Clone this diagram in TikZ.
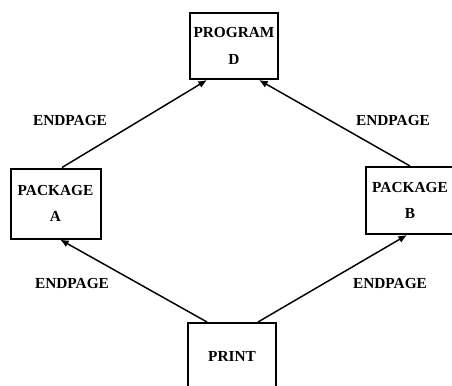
\documentclass[tikz,border=0pt]{standalone}
\usepackage{fontspec}
\setmainfont{Liberation Serif}
\usetikzlibrary{arrows.meta,calc}
\tikzset{
  modbox/.style={draw, line width=1.5pt, minimum width=66pt, minimum height=49.5pt,
    align=center, font=\fontsize{11.5}{20}\selectfont\bfseries, inner sep=0pt},
  call/.style={line width=1.1pt, -{Latex[length=6.5pt,width=5.5pt]}},
  lbl/.style={font=\fontsize{11.5}{12}\selectfont\bfseries, inner sep=0pt}
}
\begin{document}
\begin{tikzpicture}[x=0.75pt,y=-0.75pt]
\useasboundingbox (0,0) rectangle (452,385);
\begin{scope}
\clip (0,0) rectangle (452,385);
% module boxes
\node[modbox] (prog) at (234,46) {PROGRAM\\D};
\node[modbox, minimum width=67.5pt, minimum height=52.5pt] (pkga) at (55.5,203.5) {PACKAGE\\A};
\node[modbox, minimum height=50.25pt] (pkgb) at (410,200.5) {PACKAGE\\B};
\node[modbox] (print) at (232,356) {PRINT};

% calls between modules
\draw[call] ($(pkga.north)+(6.5,0)$) -- ($(prog.south)+(-27,0)$);
\draw[call] ($(pkgb.north)+(0,0)$) -- ($(prog.south)+(25,0)$);
\draw[call] ($(print.north)+(-25,0)$) -- ($(pkga.south)+(4.5,0)$);
\draw[call] ($(print.north)+(26,0)$) -- ($(pkgb.south)+(-3,0)$);

% edge labels
\node[lbl] (l1) at (70,120) {ENDPAGE};
\node[lbl] (l2) at (393,120) {ENDPAGE};
\node[lbl] (l3) at (72,283) {ENDPAGE};
\node[lbl] (l4) at (390,283) {ENDPAGE};
\end{scope}
\end{tikzpicture}
\end{document}
